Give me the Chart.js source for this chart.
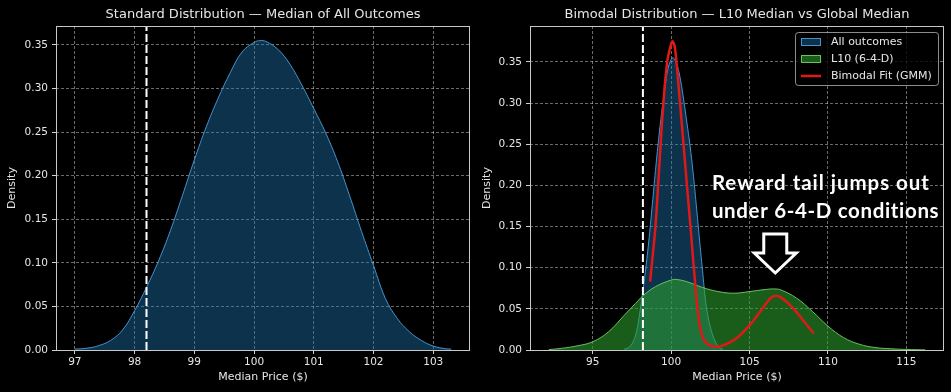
<!DOCTYPE html>
<html>
<head>
<meta charset="utf-8">
<script src="https://cdn.jsdelivr.net/npm/chart.js@4.4.1/dist/chart.umd.min.js"></script>
<style>
    html, body { margin: 0; padding: 0; background: #000; }
    #wrap { position: relative; width: 951px; height: 392px; background: #000; overflow: hidden; }
    #leftBox { position: absolute; left: 0; top: 0; width: 475px; height: 392px; }
    #rightBox { position: absolute; left: 475px; top: 0; width: 476px; height: 392px; }
</style>
</head>
<body>
<div id="wrap">
    <div id="leftBox"><canvas id="leftChart" width="475" height="392"></canvas></div>
    <div id="rightBox"><canvas id="rightChart" width="476" height="392"></canvas></div>
</div>
<script>
// ---- Data ----

// KDE of the median price, all outcomes
const allPrice   = [97.0, 97.2, 97.4, 97.6, 97.8, 98.0, 98.2, 98.4, 98.6, 98.8, 99.0, 99.2, 99.4, 99.6, 99.8, 100.0, 100.1, 100.2, 100.4, 100.6, 100.8, 101.0, 101.2, 101.4, 101.6, 101.8, 102.0, 102.2, 102.4, 102.6, 102.8, 103.0, 103.2, 103.3];
const allDensity = [0.001, 0.002, 0.005, 0.011, 0.023, 0.045, 0.072, 0.102, 0.137, 0.177, 0.218, 0.256, 0.289, 0.318, 0.342, 0.353, 0.355, 0.354, 0.345, 0.328, 0.304, 0.277, 0.249, 0.216, 0.177, 0.136, 0.097, 0.059, 0.036, 0.021, 0.011, 0.0045, 0.0015, 0.001];

// KDE for the L10 (6-4-D) subset
const l10Price   = [92.2, 93, 94, 95, 96, 97, 98, 98.2, 99, 100, 100.3, 101, 102, 103, 104, 105, 106, 106.6, 107, 108, 109, 110, 111, 112, 113, 114, 115, 116.2];
const l10Density = [0.0005, 0.002, 0.005, 0.010, 0.022, 0.042, 0.062, 0.066, 0.077, 0.085, 0.0858, 0.083, 0.076, 0.071, 0.069, 0.071, 0.0735, 0.0742, 0.073, 0.063, 0.047, 0.029, 0.015, 0.007, 0.003, 0.0015, 0.0007, 0.0002];

// Bimodal GMM fit
const gmmPrice   = [98.66, 98.8, 99.0, 99.25, 99.5, 99.75, 100.0, 100.1, 100.25, 100.5, 100.75, 101.0, 101.25, 101.5, 101.75, 102.0, 102.4, 103.0, 103.5, 104.0, 104.5, 105.0, 105.5, 106.0, 106.4, 106.7, 107.0, 107.5, 108.0, 108.5, 109.1];
const gmmDensity = [0.083, 0.11, 0.15, 0.225, 0.298, 0.350, 0.372, 0.375, 0.366, 0.315, 0.259, 0.202, 0.146, 0.088, 0.040, 0.016, 0.006, 0.004, 0.007, 0.012, 0.020, 0.030, 0.042, 0.055, 0.064, 0.066, 0.064, 0.056, 0.046, 0.034, 0.020];

const globalMedian = 98.2;

// Axis ranges and ticks
const leftXRange  = [96.685, 103.615];
const leftYMax    = 0.3718;
const rightXRange = [91.0, 117.4];
const rightYMax   = 0.3937;
const leftXTicks  = [97, 98, 99, 100, 101, 102, 103];
const rightXTicks = [95, 100, 105, 110, 115];
const densityTicks = [0, 0.05, 0.10, 0.15, 0.20, 0.25, 0.30, 0.35];

const leftTitle  = 'Standard Distribution \u2014 Median of All Outcomes';
const rightTitle = 'Bimodal Distribution \u2014 L10 Median vs Global Median';
const legendLabels = ['All outcomes', 'L10 (6-4-D)', 'Bimodal Fit (GMM)'];
const noteLines = ['Reward tail jumps out', 'under 6-4-D conditions'];
// where the note text and arrow tip sit, in data units
const noteAt  = { x: 102.6, y1: 0.1944, y2: 0.1604 };
const arrowAt = { x: 106.64, y: 0.0936 };

// ---- Styles ----
const BLUE_FILL = 'rgba(31, 119, 180, 0.42)';
const BLUE_EDGE = 'rgba(72, 152, 214, 0.95)';
const GREEN_FILL = 'rgba(44, 160, 44, 0.58)';
const GREEN_EDGE = 'rgba(110, 200, 100, 0.95)';
const RED = '#e01818';
const GRID = 'rgba(255, 255, 255, 0.42)';
const TEXT = '#e6e6e6';
const FONT = "'DejaVu Sans', sans-serif";

function toPoints(xs, ys) {
    return xs.map((x, i) => ({ x: x, y: ys[i] }));
}

function medianLine(yMax) {
    return {
        label: 'median',
        data: [{ x: globalMedian, y: 0 }, { x: globalMedian, y: yMax }],
        borderColor: '#ffffff',
        borderWidth: 2,
        borderDash: [8, 3],
        pointRadius: 0,
        fill: false,
        order: 0
    };
}

// Frame (all four spines) drawn over the data
const framePlugin = {
    id: 'frame',
    afterDatasetsDraw(chart) {
        const { ctx, chartArea: a } = chart;
        ctx.save();
        ctx.strokeStyle = '#c8c8c8';
        ctx.lineWidth = 1;
        ctx.strokeRect(a.left + 0.5, a.top + 0.5, a.right - a.left - 1, a.bottom - a.top);
        ctx.restore();
    }
};

// Legend box in the top right of the bimodal panel
const legendPlugin = {
    id: 'boxLegend',
    afterDraw(chart) {
        const ctx = chart.ctx;
        const a = chart.chartArea;
        const boxX = a.right - 149, boxY = a.top + 6, boxW = 143, boxH = 53;
        ctx.save();
        ctx.fillStyle = 'rgba(0, 0, 0, 0.8)';
        ctx.strokeStyle = 'rgba(200, 200, 200, 0.7)';
        ctx.lineWidth = 1;
        ctx.beginPath();
        ctx.roundRect(boxX + 0.5, boxY + 0.5, boxW, boxH, 3);
        ctx.fill();
        ctx.stroke();

        ctx.font = '11px ' + FONT;
        ctx.textBaseline = 'middle';
        legendLabels.forEach((label, i) => {
            const cy = boxY + 10 + i * 17;
            const px = boxX + 6;
            if (i < 2) {
                ctx.fillStyle = i === 0 ? BLUE_FILL : GREEN_FILL;
                ctx.fillRect(px, cy - 4, 20, 8);
                ctx.strokeStyle = i === 0 ? BLUE_EDGE : GREEN_EDGE;
                ctx.strokeRect(px + 0.5, cy - 3.5, 19, 7);
            } else {
                ctx.strokeStyle = RED;
                ctx.lineWidth = 2.5;
                ctx.beginPath();
                ctx.moveTo(px, cy);
                ctx.lineTo(px + 20, cy);
                ctx.stroke();
                ctx.lineWidth = 1;
            }
            ctx.fillStyle = TEXT;
            ctx.fillText(label, px + 30, cy);
        });
        ctx.restore();
    }
};

// Write text spread out to a target width
function spreadText(ctx, text, x, y, width) {
    ctx.letterSpacing = '0px';
    const w = ctx.measureText(text).width;
    const gap = Math.max(0, (width - w) / (text.length - 1));
    ctx.letterSpacing = gap.toFixed(2) + 'px';
    ctx.fillText(text, x, y);
    ctx.letterSpacing = '0px';
}

// Callout text and hollow arrow
const notePlugin = {
    id: 'note',
    afterDatasetsDraw(chart) {
        const ctx = chart.ctx;
        const xs = chart.scales.x, ys = chart.scales.y;
        ctx.save();
        ctx.fillStyle = '#ffffff';
        ctx.font = 'bold 20.5px Lato, sans-serif';
        ctx.textBaseline = 'alphabetic';
        const tx = xs.getPixelForValue(noteAt.x);
        spreadText(ctx, noteLines[0], tx, ys.getPixelForValue(noteAt.y1), 217);
        spreadText(ctx, noteLines[1], tx, ys.getPixelForValue(noteAt.y2), 227);

        const ax = xs.getPixelForValue(arrowAt.x);
        const ay = ys.getPixelForValue(arrowAt.y);
        ctx.beginPath();
        ctx.moveTo(ax, ay);
        ctx.lineTo(ax - 21, ay - 20);
        ctx.lineTo(ax - 11.5, ay - 20);
        ctx.lineTo(ax - 11.5, ay - 39);
        ctx.lineTo(ax + 11.5, ay - 39);
        ctx.lineTo(ax + 11.5, ay - 20);
        ctx.lineTo(ax + 21, ay - 20);
        ctx.closePath();
        ctx.fillStyle = '#000000';
        ctx.fill();
        ctx.strokeStyle = '#ffffff';
        ctx.lineWidth = 3;
        ctx.lineJoin = 'miter';
        ctx.stroke();
        ctx.restore();
    }
};

function buildOptions(title, xRange, xTicks, yMax, yWidth, rightPad) {
    return {
        responsive: false,
        animation: false,
        layout: { padding: { top: 0, right: rightPad, bottom: 0, left: 0 } },
        plugins: {
            legend: { display: false },
            tooltip: { enabled: false },
            title: {
                display: true,
                text: title,
                color: TEXT,
                fullSize: false,
                font: { family: FONT, size: 13, weight: 'normal', lineHeight: 1.2 },
                padding: { top: 6.5, bottom: 3.9 }
            }
        },
        scales: {
            x: {
                type: 'linear',
                min: xRange[0],
                max: xRange[1],
                afterBuildTicks: axis => { axis.ticks = xTicks.map(v => ({ value: v })); },
                afterFit: axis => { axis.height = 42; },
                ticks: {
                    color: TEXT,
                    font: { family: FONT, size: 10.5 },
                    padding: 2,
                    maxRotation: 0,
                    callback: v => String(v)
                },
                grid: { color: GRID, lineWidth: 1, tickColor: '#d0d0d0', tickLength: 4, tickWidth: 1 },
                border: { display: false, dash: [3, 2] },
                title: {
                    display: true,
                    text: 'Median Price ($)',
                    color: TEXT,
                    font: { family: FONT, size: 11 },
                    padding: { top: 0, bottom: 8 }
                }
            },
            y: {
                type: 'linear',
                min: 0,
                max: yMax,
                afterBuildTicks: axis => { axis.ticks = densityTicks.map(v => ({ value: v })); },
                afterFit: axis => { axis.width = yWidth; },
                ticks: {
                    color: TEXT,
                    font: { family: FONT, size: 10.5 },
                    padding: 4,
                    callback: v => Number(v).toFixed(2)
                },
                grid: { color: GRID, lineWidth: 1, tickColor: '#d0d0d0', tickLength: 4, tickWidth: 1 },
                border: { display: false, dash: [3, 2] },
                title: {
                    display: true,
                    text: 'Density',
                    color: TEXT,
                    font: { family: FONT, size: 11 },
                    padding: { top: 6, bottom: 0 }
                }
            }
        }
    };
}

function areaSet(label, xs, ys, edge, fillColor, order) {
    return {
        label: label,
        data: toPoints(xs, ys),
        borderColor: edge,
        backgroundColor: fillColor,
        borderWidth: 1,
        pointRadius: 0,
        tension: 0.4,
        fill: 'origin',
        order: order
    };
}

// Left panel: standard distribution
new Chart(document.getElementById('leftChart'), {
    type: 'line',
    data: {
        datasets: [
            medianLine(leftYMax),
            areaSet('All outcomes', allPrice, allDensity, BLUE_EDGE, BLUE_FILL, 3)
        ]
    },
    options: buildOptions(leftTitle, leftXRange, leftXTicks, leftYMax, 56, 5),
    plugins: [framePlugin]
});

// Right panel: bimodal view
new Chart(document.getElementById('rightChart'), {
    type: 'line',
    data: {
        datasets: [
            medianLine(rightYMax),
            {
                label: 'Bimodal Fit (GMM)',
                data: toPoints(gmmPrice, gmmDensity),
                borderColor: RED,
                borderWidth: 2.5,
                pointRadius: 0,
                tension: 0.4,
                fill: false,
                order: 1
            },
            areaSet('L10 (6-4-D)', l10Price, l10Density, GREEN_EDGE, GREEN_FILL, 2),
            areaSet('All outcomes', allPrice, allDensity, BLUE_EDGE, BLUE_FILL, 3)
        ]
    },
    options: buildOptions(rightTitle, rightXRange, rightXTicks, rightYMax, 55, 7),
    plugins: [framePlugin, notePlugin, legendPlugin]
});
</script>
</body>
</html>
